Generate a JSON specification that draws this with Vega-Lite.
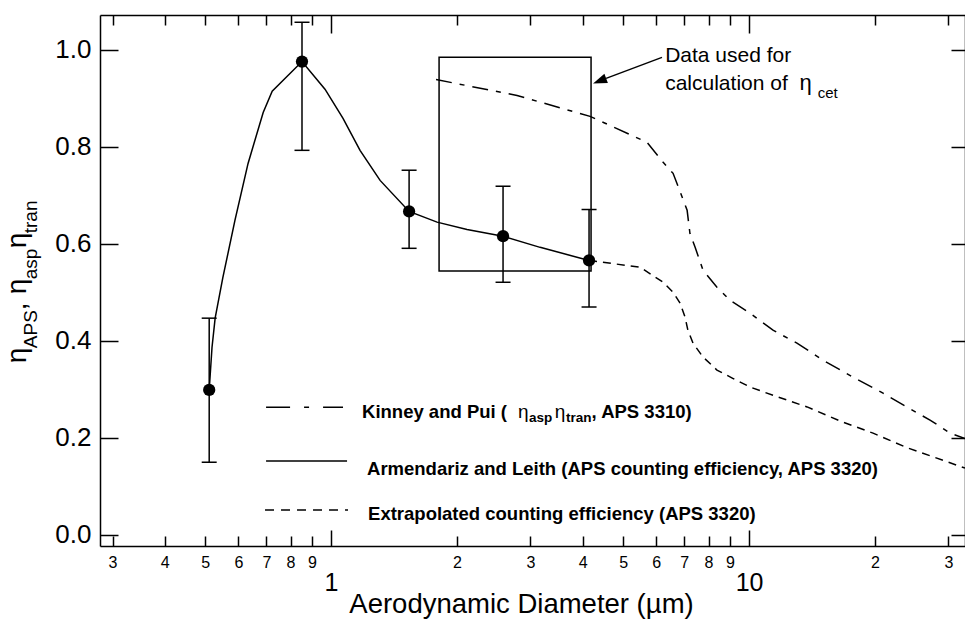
{
  "$schema": "https://vega.github.io/schema/vega-lite/v6.json",
  "width": 865,
  "height": 531,
  "autosize": {"type": "none"},
  "padding": {"left": 100, "top": 15, "right": 0, "bottom": 73},
  "background": "white",
  "config": {
    "view": {"stroke": null},
    "axis": {"grid": false, "domainColor": "black", "tickColor": "black", "labelColor": "black", "titleColor": "black", "domainWidth": 1.5, "tickWidth": 1.5, "labelFont": "Liberation Sans", "titleFont": "Liberation Sans"},
    "text": {"font": "Liberation Sans", "color": "black", "align": "left", "baseline": "alphabetic"}
  },
  "datasets": {
    "armendariz": [
      {"x": 0.511, "y": 0.299}, {"x": 0.519, "y": 0.387}, {"x": 0.528, "y": 0.447}, {"x": 0.551, "y": 0.531},
      {"x": 0.589, "y": 0.649}, {"x": 0.633, "y": 0.766}, {"x": 0.688, "y": 0.871}, {"x": 0.723, "y": 0.915},
      {"x": 0.852, "y": 0.976}, {"x": 0.967, "y": 0.919}, {"x": 1.068, "y": 0.859}, {"x": 1.173, "y": 0.793},
      {"x": 1.31, "y": 0.731}, {"x": 1.537, "y": 0.667}, {"x": 1.793, "y": 0.645}, {"x": 2.115, "y": 0.63},
      {"x": 2.579, "y": 0.616}, {"x": 3.163, "y": 0.593}, {"x": 4.142, "y": 0.566}
    ],
    "kinney": [
      {"x": 1.783, "y": 0.939}, {"x": 2.786, "y": 0.906}, {"x": 4.165, "y": 0.863}, {"x": 5.70, "y": 0.8095},
      {"x": 6.23, "y": 0.7683}, {"x": 6.58, "y": 0.7456}, {"x": 6.92, "y": 0.6962}, {"x": 7.11, "y": 0.6694},
      {"x": 7.22, "y": 0.6221}, {"x": 7.43, "y": 0.5932}, {"x": 7.76, "y": 0.5458}, {"x": 8.38, "y": 0.5108},
      {"x": 9.0, "y": 0.484}, {"x": 10.06, "y": 0.4572}, {"x": 11.41, "y": 0.4222}, {"x": 13.02, "y": 0.3955},
      {"x": 15.03, "y": 0.3604}, {"x": 17.74, "y": 0.3254}, {"x": 20.92, "y": 0.2924}, {"x": 23.88, "y": 0.2636},
      {"x": 27.1, "y": 0.2369}, {"x": 30.27, "y": 0.2101}, {"x": 32.86, "y": 0.199}
    ],
    "extrapolated": [
      {"x": 4.142, "y": 0.566}, {"x": 5.49, "y": 0.552}, {"x": 6.23, "y": 0.521}, {"x": 6.58, "y": 0.5005},
      {"x": 6.84, "y": 0.478}, {"x": 7.03, "y": 0.449}, {"x": 7.14, "y": 0.422}, {"x": 7.35, "y": 0.395},
      {"x": 7.76, "y": 0.367}, {"x": 8.38, "y": 0.34}, {"x": 9.14, "y": 0.323}, {"x": 10.06, "y": 0.305},
      {"x": 11.41, "y": 0.288}, {"x": 13.77, "y": 0.264}, {"x": 16.51, "y": 0.235}, {"x": 19.8, "y": 0.21},
      {"x": 23.88, "y": 0.18}, {"x": 32.86, "y": 0.138}
    ],
    "points": [
      {"x": 0.511, "y": 0.299, "lo": 0.15, "hi": 0.447},
      {"x": 0.852, "y": 0.976, "lo": 0.793, "hi": 1.057},
      {"x": 1.537, "y": 0.667, "lo": 0.591, "hi": 0.752},
      {"x": 2.579, "y": 0.616, "lo": 0.521, "hi": 0.719},
      {"x": 4.142, "y": 0.566, "lo": 0.47, "hi": 0.671}
    ]
  },
  "layer": [
    {
      "data": {"name": "armendariz"},
      "mark": {"type": "line", "color": "black", "strokeWidth": 1.5},
      "encoding": {
        "x": {"field": "x", "type": "quantitative",
          "scale": {"type": "log", "domain": [0.28, 32.86], "nice": false},
          "axis": {"orient": "bottom",
            "values": [0.3, 0.4, 0.5, 0.6, 0.7, 0.8, 0.9, 1, 2, 3, 4, 5, 6, 7, 8, 9, 10, 20, 30],
            "labelExpr": "datum.value==1||datum.value==10 ? toString(datum.value) : datum.value<1 ? toString(round(datum.value*10)) : datum.value<10 ? toString(datum.value) : toString(round(datum.value/10))",
            "labelFontSize": {"condition": {"test": "datum.value==1||datum.value==10", "value": 25}, "value": 16},
            "labelPadding": {"condition": {"test": "datum.value==1||datum.value==10", "value": 40}, "value": 18},
            "tickSize": {"condition": {"test": "datum.value==1||datum.value==10", "value": -16}, "value": -10},
            "labelBaseline": "top", "labelOverlap": false, "labelFlush": false, "labelBound": false,
            "title": "Aerodynamic Diameter (µm)", "titleFontSize": 27.5, "titleFontWeight": "normal",
            "titleX": 421, "titleY": 66, "titleBaseline": "alphabetic", "titleAlign": "center"}},
        "y": {"field": "y", "type": "quantitative",
          "scale": {"domain": [-0.0227, 1.072], "nice": false, "zero": false},
          "axis": {"orient": "left", "values": [0, 0.2, 0.4, 0.6, 0.8, 1], "format": ".1f",
            "labelFontSize": 26, "tickSize": -18, "labelPadding": 27, "title": null}}
      }
    },
    {
      "data": {"name": "kinney"},
      "mark": {"type": "line", "color": "black", "strokeWidth": 1.5, "strokeDash": [16, 8, 5, 8]},
      "encoding": {
        "x": {"field": "x", "type": "quantitative",
          "scale": {"type": "log", "domain": [0.28, 32.86], "nice": false},
          "axis": {"orient": "top", "values": [0.3, 0.4, 0.5, 0.6, 0.7, 0.8, 0.9, 1, 2, 3, 4, 5, 6, 7, 8, 9, 10, 20, 30],
            "labels": false, "title": null,
            "tickSize": {"condition": {"test": "datum.value==1||datum.value==10", "value": -18}, "value": -10}}},
        "y": {"field": "y", "type": "quantitative",
          "scale": {"domain": [-0.0227, 1.072], "nice": false, "zero": false},
          "axis": {"orient": "right", "values": [0, 0.2, 0.4, 0.6, 0.8, 1], "labels": false, "title": null, "tickSize": -14}}
      }
    },
    {
      "data": {"name": "extrapolated"},
      "mark": {"type": "line", "color": "black", "strokeWidth": 1.5, "strokeDash": [8, 6]},
      "encoding": {
        "x": {"field": "x", "type": "quantitative", "axis": null},
        "y": {"field": "y", "type": "quantitative", "axis": null}
      }
    },
    {
      "data": {"name": "points"},
      "mark": {"type": "rule", "color": "black", "strokeWidth": 1.5},
      "encoding": {
        "x": {"field": "x", "type": "quantitative", "axis": null},
        "y": {"field": "lo", "type": "quantitative", "axis": null},
        "y2": {"field": "hi"}
      }
    },
    {
      "data": {"name": "points"},
      "transform": [{"fold": ["lo", "hi"], "as": ["end", "v"]}],
      "mark": {"type": "tick", "orient": "horizontal", "color": "black", "size": 15, "thickness": 1.5, "opacity": 1},
      "encoding": {
        "x": {"field": "x", "type": "quantitative", "axis": null},
        "y": {"field": "v", "type": "quantitative", "axis": null}
      }
    },
    {
      "data": {"name": "points"},
      "mark": {"type": "point", "filled": true, "color": "black", "size": 150, "opacity": 1},
      "encoding": {
        "x": {"field": "x", "type": "quantitative", "axis": null},
        "y": {"field": "y", "type": "quantitative", "axis": null}
      }
    },
    {
      "data": {"values": [{}]},
      "mark": {"type": "rect", "filled": false, "stroke": "black", "strokeWidth": 1.5},
      "encoding": {
        "x": {"datum": 1.813, "type": "quantitative", "axis": null},
        "x2": {"datum": 4.188},
        "y": {"datum": 0.985, "type": "quantitative", "axis": null},
        "y2": {"datum": 0.544}
      }
    },
    {
      "data": {"values": [{}]},
      "mark": {"type": "rule", "color": "black", "strokeWidth": 1.5},
      "encoding": {
        "x": {"datum": 6.19, "type": "quantitative", "axis": null},
        "x2": {"datum": 4.549},
        "y": {"datum": 0.9846, "type": "quantitative", "axis": null},
        "y2": {"datum": 0.9413}
      }
    },
    {
      "data": {"values": [{}]},
      "mark": {"type": "point", "shape": "M0,0L-0.35,1L0.35,1Z", "filled": true, "color": "black", "opacity": 1, "size": 784, "angle": 249},
      "encoding": {
        "x": {"datum": 4.235, "type": "quantitative", "axis": null},
        "y": {"datum": 0.931, "type": "quantitative", "axis": null}
      }
    },
    {
      "data": {"values": [{}]},
      "mark": {"type": "text", "text": "Data used for", "fontSize": 21},
      "encoding": {"x": {"datum": 6.30, "type": "quantitative", "axis": null}, "y": {"datum": 0.9743, "type": "quantitative", "axis": null}}
    },
    {
      "data": {"values": [{}]},
      "mark": {"type": "text", "text": "calculation of", "fontSize": 21},
      "encoding": {"x": {"datum": 6.30, "type": "quantitative", "axis": null}, "y": {"datum": 0.9166, "type": "quantitative", "axis": null}}
    },
    {
      "data": {"values": [{}]},
      "mark": {"type": "text", "text": "η", "fontSize": 22},
      "encoding": {"x": {"datum": 13.2, "type": "quantitative", "axis": null}, "y": {"datum": 0.9166, "type": "quantitative", "axis": null}}
    },
    {
      "data": {"values": [{}]},
      "mark": {"type": "text", "text": "cet", "fontSize": 15},
      "encoding": {"x": {"datum": 14.6, "type": "quantitative", "axis": null}, "y": {"datum": 0.900, "type": "quantitative", "axis": null}}
    },
    {
      "data": {"values": [{}]},
      "mark": {"type": "rule", "color": "black", "strokeWidth": 1.5, "strokeDash": [24, 14, 5, 14]},
      "encoding": {"x": {"datum": 0.699, "type": "quantitative", "axis": null}, "x2": {"datum": 1.068}, "y": {"datum": 0.2636, "type": "quantitative", "axis": null}}
    },
    {
      "data": {"values": [{}]},
      "mark": {"type": "rule", "color": "black", "strokeWidth": 1.5},
      "encoding": {"x": {"datum": 0.699, "type": "quantitative", "axis": null}, "x2": {"datum": 1.092}, "y": {"datum": 0.1524, "type": "quantitative", "axis": null}}
    },
    {
      "data": {"values": [{}]},
      "mark": {"type": "rule", "color": "black", "strokeWidth": 1.5, "strokeDash": [9, 7]},
      "encoding": {"x": {"datum": 0.695, "type": "quantitative", "axis": null}, "x2": {"datum": 1.098}, "y": {"datum": 0.0515, "type": "quantitative", "axis": null}}
    },
    {
      "data": {"values": [{}]},
      "mark": {"type": "text", "text": "Kinney and Pui (", "fontSize": 18.5, "fontWeight": "bold"},
      "encoding": {"x": {"datum": 1.186, "type": "quantitative", "axis": null}, "y": {"datum": 0.241, "type": "quantitative", "axis": null}}
    },
    {
      "data": {"values": [{}]},
      "mark": {"type": "text", "text": "η", "fontSize": 19},
      "encoding": {"x": {"datum": 2.802, "type": "quantitative", "axis": null}, "y": {"datum": 0.241, "type": "quantitative", "axis": null}}
    },
    {
      "data": {"values": [{}]},
      "mark": {"type": "text", "text": "asp", "fontSize": 13.5, "fontWeight": "bold"},
      "encoding": {"x": {"datum": 2.977, "type": "quantitative", "axis": null}, "y": {"datum": 0.2327, "type": "quantitative", "axis": null}}
    },
    {
      "data": {"values": [{}]},
      "mark": {"type": "text", "text": "η", "fontSize": 19},
      "encoding": {"x": {"datum": 3.43, "type": "quantitative", "axis": null}, "y": {"datum": 0.241, "type": "quantitative", "axis": null}}
    },
    {
      "data": {"values": [{}]},
      "mark": {"type": "text", "text": "tran", "fontSize": 13.5, "fontWeight": "bold"},
      "encoding": {"x": {"datum": 3.65, "type": "quantitative", "axis": null}, "y": {"datum": 0.2327, "type": "quantitative", "axis": null}}
    },
    {
      "data": {"values": [{}]},
      "mark": {"type": "text", "text": ", APS 3310)", "fontSize": 18.5, "fontWeight": "bold"},
      "encoding": {"x": {"datum": 4.2, "type": "quantitative", "axis": null}, "y": {"datum": 0.241, "type": "quantitative", "axis": null}}
    },
    {
      "data": {"values": [{}]},
      "mark": {"type": "text", "text": "Armendariz and Leith (APS counting efficiency, APS 3320)", "fontSize": 18.5, "fontWeight": "bold"},
      "encoding": {"x": {"datum": 1.219, "type": "quantitative", "axis": null}, "y": {"datum": 0.1236, "type": "quantitative", "axis": null}}
    },
    {
      "data": {"values": [{}]},
      "mark": {"type": "text", "text": "Extrapolated counting efficiency (APS 3320)", "fontSize": 18.5, "fontWeight": "bold"},
      "encoding": {"x": {"datum": 1.226, "type": "quantitative", "axis": null}, "y": {"datum": 0.0309, "type": "quantitative", "axis": null}}
    },
    {
      "data": {"values": [{}]},
      "mark": {"type": "text", "text": "η", "fontSize": 28, "angle": 270},
      "encoding": {"x": {"datum": 0.1864, "type": "quantitative", "axis": null}, "y": {"datum": 0.3543, "type": "quantitative", "axis": null}}
    },
    {
      "data": {"values": [{}]},
      "mark": {"type": "text", "text": "APS", "fontSize": 19, "angle": 270},
      "encoding": {"x": {"datum": 0.198, "type": "quantitative", "axis": null}, "y": {"datum": 0.3852, "type": "quantitative", "axis": null}}
    },
    {
      "data": {"values": [{}]},
      "mark": {"type": "text", "text": ",", "fontSize": 28, "angle": 270},
      "encoding": {"x": {"datum": 0.1864, "type": "quantitative", "axis": null}, "y": {"datum": 0.4634, "type": "quantitative", "axis": null}}
    },
    {
      "data": {"values": [{}]},
      "mark": {"type": "text", "text": "η", "fontSize": 28, "angle": 270},
      "encoding": {"x": {"datum": 0.1864, "type": "quantitative", "axis": null}, "y": {"datum": 0.4964, "type": "quantitative", "axis": null}}
    },
    {
      "data": {"values": [{}]},
      "mark": {"type": "text", "text": "asp", "fontSize": 19, "angle": 270},
      "encoding": {"x": {"datum": 0.198, "type": "quantitative", "axis": null}, "y": {"datum": 0.5273, "type": "quantitative", "axis": null}}
    },
    {
      "data": {"values": [{}]},
      "mark": {"type": "text", "text": "η", "fontSize": 28, "angle": 270},
      "encoding": {"x": {"datum": 0.1864, "type": "quantitative", "axis": null}, "y": {"datum": 0.5911, "type": "quantitative", "axis": null}}
    },
    {
      "data": {"values": [{}]},
      "mark": {"type": "text", "text": "tran", "fontSize": 19, "angle": 270},
      "encoding": {"x": {"datum": 0.198, "type": "quantitative", "axis": null}, "y": {"datum": 0.622, "type": "quantitative", "axis": null}}
    }
  ],
  "resolve": {"axis": {"x": "independent", "y": "independent"}}
}
